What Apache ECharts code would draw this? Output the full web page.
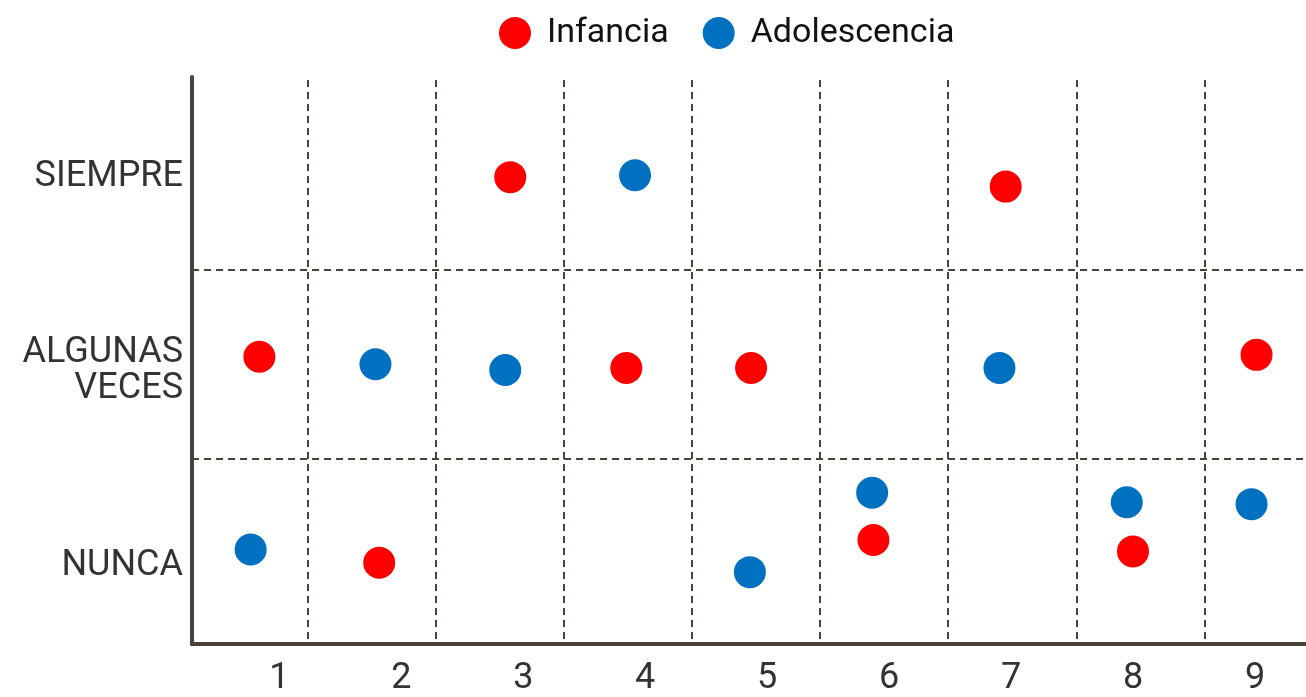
<!DOCTYPE html>
<html><head><meta charset="utf-8">
<script src="https://cdn.jsdelivr.net/npm/echarts@6/dist/echarts.min.js"></script>
<style>html,body{margin:0;padding:0;background:#fff;overflow:hidden}#c{width:1306px;height:697px}</style>
</head><body><div id="c"></div>
<script>
const xTickLabels = ['1','2','3','4','5','6','7','8','9'];
const yCategories = ['NUNCA','ALGUNAS\nVECES','SIEMPRE'];
const seriesNames = ['Infancia','Adolescencia'];
const seriesColors = ['#FF0000','#0070C0'];
const infanciaX = [1.04, 2.00, 3.05, 3.98, 4.98, 5.96, 7.02, 8.04, 9.03];
const infanciaY = [1.52, 0.43, 2.47, 1.46, 1.46, 0.55, 2.42, 0.49, 1.53];
const adolescenciaX = [0.97, 1.97, 3.01, 4.05, 4.97, 5.95, 6.97, 7.99, 8.99];
const adolescenciaY = [0.50, 1.48, 1.45, 2.48, 0.38, 0.80, 1.46, 0.75, 0.74];

const axisColor = '#4a4239';
const font = 'Roboto';
const dashStyle = {type: [7, 5], color: axisColor, width: 2};
const zip = (xs, ys) => xs.map((x, i) => [x, ys[i]]);

const W = 1306;
// main grid: unit 124.8 px per category, starting at x=192 (value 0.5)
const mainLeft = 192, mainUnit = 124.8;
// vertical dashed grid: unit 128.09 px, value 0 at x=179.7
const vLeft = 179.7, vUnit = 128.09;
// x tick label grid: unit 121.96 px, value 0 at x=157.4
const lLeft = 157.4, lUnit = 121.96;

const chart = echarts.init(document.getElementById('c'));
chart.setOption({
  animation: false,
  backgroundColor: '#fff',
  legend: {
    data: seriesNames, icon: 'circle', itemWidth: 32, itemHeight: 32, itemGap: 34,
    left: 494, top: 11,
    textStyle: {fontFamily: font, fontSize: 34, color: '#111', padding: [0, 0, 0, 11]}
  },
  grid: [
    {left: mainLeft, top: 77, width: W - mainLeft, height: 567},
    {left: vLeft, top: 80, width: W - vLeft, height: 564},
    {left: 192, top: 81, width: W - 192, height: 567},
    {left: lLeft, top: 77, width: W - lLeft, height: 567},
    {left: 192, top: 79.9, width: 100, height: 582.75}
  ],
  xAxis: [
    {gridIndex: 0, type: 'value', min: 0.5, max: 0.5 + (W - mainLeft) / mainUnit,
     axisLine: {show: true, lineStyle: {color: axisColor, width: 4, cap: 'round'}},
     axisTick: {show: false}, axisLabel: {show: false}, splitLine: {show: false}},
    {gridIndex: 1, type: 'value', min: 0, max: (W - vLeft) / vUnit, interval: 1,
     axisLine: {show: false}, axisTick: {show: false}, axisLabel: {show: false},
     splitLine: {show: true, showMinLine: false, showMaxLine: false, lineStyle: dashStyle}},
    {gridIndex: 2, type: 'value', show: false},
    {gridIndex: 3, type: 'value', min: 0, max: (W - lLeft) / lUnit, interval: 1,
     axisLine: {show: false}, axisTick: {show: false}, splitLine: {show: false},
     axisLabel: {show: true, margin: 17, fontFamily: font, fontSize: 36, color: '#333',
       showMinLabel: false, showMaxLabel: false,
       formatter: v => (Number.isInteger(v) && v >= 1 && v <= xTickLabels.length) ? xTickLabels[v - 1] : ''}},
    {gridIndex: 4, type: 'value', show: false}
  ],
  yAxis: [
    {gridIndex: 0, type: 'value', min: 0, max: 3,
     axisLine: {show: true, lineStyle: {color: axisColor, width: 4, cap: 'round'}},
     axisTick: {show: false}, axisLabel: {show: false}, splitLine: {show: false}},
    {gridIndex: 1, type: 'value', show: false},
    {gridIndex: 2, type: 'value', min: 0, max: 3, interval: 1,
     axisLine: {show: false}, axisTick: {show: false}, axisLabel: {show: false},
     splitLine: {show: true, showMinLine: false, showMaxLine: false, lineStyle: dashStyle}},
    {gridIndex: 3, type: 'value', show: false},
    {gridIndex: 4, type: 'category', data: yCategories,
     axisLine: {show: false}, axisTick: {show: false}, splitLine: {show: false},
     axisLabel: {show: true, margin: 9, fontFamily: font, fontSize: 36, lineHeight: 36, color: '#333'}}
  ],
  series: [
    {name: seriesNames[0], type: 'scatter', xAxisIndex: 0, yAxisIndex: 0, z: 5,
     symbol: 'circle', symbolSize: 32, itemStyle: {color: seriesColors[0], opacity: 1},
     data: zip(infanciaX, infanciaY)},
    {name: seriesNames[1], type: 'scatter', xAxisIndex: 0, yAxisIndex: 0, z: 5,
     symbol: 'circle', symbolSize: 32, itemStyle: {color: seriesColors[1], opacity: 1},
     data: zip(adolescenciaX, adolescenciaY)}
  ]
});
</script>
</body></html>
